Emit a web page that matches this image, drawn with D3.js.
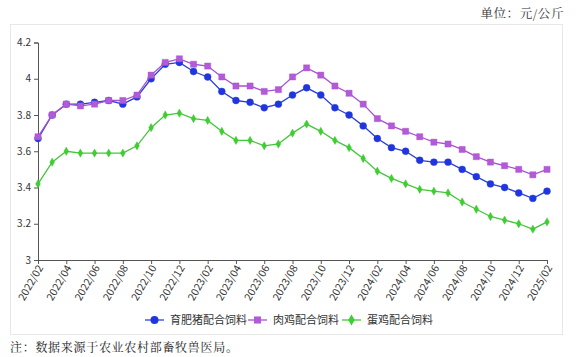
<!DOCTYPE html>
<html><head><meta charset="utf-8">
<script src="https://cdn.jsdelivr.net/npm/d3@7"></script>
<style>body{margin:0;background:#fff;}svg{display:block;}</style>
</head><body>
<script>
const months = ["2022/02","2022/03","2022/04","2022/05","2022/06","2022/07","2022/08","2022/09","2022/10","2022/11","2022/12","2023/01","2023/02","2023/03","2023/04","2023/05","2023/06","2023/07","2023/08","2023/09","2023/10","2023/11","2023/12","2024/01","2024/02","2024/03","2024/04","2024/05","2024/06","2024/07","2024/08","2024/09","2024/10","2024/11","2024/12","2025/01","2025/02"];
const pigFeed = [3.67,3.80,3.86,3.86,3.87,3.88,3.86,3.90,4.00,4.08,4.09,4.04,4.01,3.93,3.88,3.87,3.84,3.86,3.91,3.95,3.91,3.84,3.80,3.74,3.67,3.62,3.60,3.55,3.54,3.54,3.50,3.46,3.42,3.40,3.37,3.34,3.38];
const broilerFeed = [3.68,3.80,3.86,3.85,3.86,3.88,3.88,3.91,4.02,4.09,4.11,4.08,4.07,4.01,3.96,3.96,3.93,3.94,4.01,4.06,4.02,3.96,3.92,3.86,3.78,3.74,3.71,3.68,3.65,3.64,3.61,3.57,3.54,3.52,3.50,3.47,3.50];
const layerFeed = [3.42,3.54,3.60,3.59,3.59,3.59,3.59,3.63,3.73,3.80,3.81,3.78,3.77,3.71,3.66,3.66,3.63,3.64,3.70,3.75,3.71,3.66,3.62,3.56,3.49,3.45,3.42,3.39,3.38,3.37,3.32,3.28,3.24,3.22,3.20,3.17,3.21];
const yTicks = [3,3.2,3.4,3.6,3.8,4,4.2];
const seriesNames = ["育肥猪配合饲料","肉鸡配合饲料","蛋鸡配合饲料"];
const seriesColors = ["#2a3fd8","#a851d0","#44c63a"];
const markerColors = ["#1f35e0","#b35ad8","#3ccf2f"];
const markerShapes = [d3.symbolCircle, d3.symbolSquare, d3.symbolDiamond];
const markerSizes = [38, 38, 20];

const W=578,H=357;
const svg=d3.select("body").append("svg").attr("width",W).attr("height",H);
const font="'Noto Sans CJK SC','Noto Sans',sans-serif";
const serif="'Noto Serif CJK SC','Noto Sans CJK SC',serif";

// frame
svg.append("rect").attr("x",10.5).attr("y",24.5).attr("width",552).attr("height",310)
  .attr("fill","none").attr("stroke","#e8e8e8");

svg.append("text").attr("x",564).attr("y",18).attr("text-anchor","end")
  .attr("font-family",serif).attr("font-size",12.5).attr("letter-spacing",0.6).attr("fill","#333").text("单位：元/公斤");
svg.append("text").attr("x",10).attr("y",352)
  .attr("font-family",serif).attr("font-size",12).attr("letter-spacing",0.7).attr("fill","#222").text("注：数据来源于农业农村部畜牧兽医局。");

const x=d3.scalePoint().domain(months).range([38,547]);
const y=d3.scaleLinear().domain([3,4.2]).range([260,42.5]);

const yAxis=svg.append("g").attr("transform","translate(38,0)")
  .call(d3.axisLeft(y).tickValues(yTicks).tickSize(4).tickFormat(d3.format("~g")));
yAxis.selectAll("text").attr("font-family",font).attr("font-size",10).attr("fill","#333");
yAxis.selectAll("line,path").attr("stroke","#555");

const xTickVals=months.filter((d,i)=>i%2===0);
const xAxis=svg.append("g").attr("transform","translate(0,260)")
  .call(d3.axisBottom(x).tickValues(xTickVals).tickSize(4).tickSizeOuter(0));
xAxis.selectAll("line,path").attr("stroke","#555");
xAxis.selectAll("text").attr("font-family",font).attr("font-size",10.5).attr("fill","#333")
  .attr("text-anchor","end").attr("dy","0.35em")
  .attr("transform","translate(3,4) rotate(-60)").attr("x",-2).attr("y",0);

const all=[pigFeed,broilerFeed,layerFeed];
const line=d3.line().x((d,i)=>x(months[i])).y(d=>y(d));
all.forEach((vals,k)=>{
  svg.append("path").datum(vals).attr("d",line).attr("fill","none")
    .attr("stroke",seriesColors[k]).attr("stroke-width",1.3);
  svg.append("g").selectAll("path").data(vals).join("path")
    .attr("transform",(d,i)=>`translate(${x(months[i])},${y(d)})`)
    .attr("d",d3.symbol().type(markerShapes[k]).size(markerSizes[k]))
    .attr("fill",markerColors[k]).attr("stroke",seriesColors[k]).attr("stroke-opacity",0.4).attr("stroke-width",1);
});

// legend
const legX=[145,248,342];
seriesNames.forEach((n,k)=>{
  const g=svg.append("g").attr("transform",`translate(${legX[k]},320)`);
  g.append("line").attr("x1",0).attr("x2",19).attr("stroke",seriesColors[k]).attr("stroke-width",1.3);
  g.append("path").attr("transform","translate(9.5,0)")
    .attr("d",d3.symbol().type(markerShapes[k]).size(k===2?36:50)).attr("fill",markerColors[k]);
  g.append("text").attr("x",25).attr("y",4).attr("font-family",font).attr("font-size",11).attr("fill","#333").text(n);
});
</script>
</body></html>
